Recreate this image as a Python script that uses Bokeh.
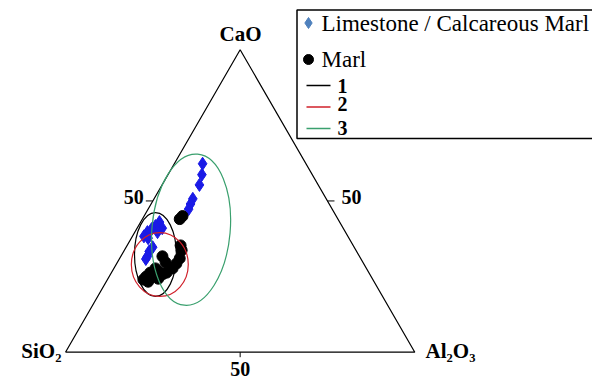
import numpy as np
from bokeh.plotting import figure
from bokeh.models import ColumnDataSource, Range1d
from bokeh.core.properties import value
from bokeh.embed import file_html
from bokeh.resources import INLINE

# ---------------- data (wt %) ----------------
lime_sio2 = [29.6, 31.6, 34.0, 38.2, 39.7, 41.1, 51.6, 51.8, 53.4, 55.0, 56.7, 58.4, 53.8, 57.5, 57.7, 59.4, 60.7, 61.6]
lime_al2o3 = [8.1, 9.7, 10.7, 11.1, 11.3, 11.6, 5.4, 7.2, 4.9, 4.3, 3.6, 3.3, 6.5, 4.8, 7.6, 7.3, 7.6, 7.6]
lime_cao = [62.3, 58.7, 55.3, 50.7, 49.0, 47.3, 43.0, 41.0, 41.7, 40.7, 39.7, 38.3, 39.7, 37.7, 34.7, 33.3, 31.7, 30.8]

marl_sio2 = [44.0, 45.3, 49.4, 49.9, 51.8, 53.6, 55.5, 57.9, 59.4, 60.0, 56.5, 56.4, 60.4, 62.6, 64.4, 65.7, 64.7, 62.4, 61.3]
marl_al2o3 = [11.0, 10.7, 15.3, 16.4, 17.2, 17.1, 16.8, 15.8, 14.9, 13.3, 13.8, 11.9, 11.9, 11.1, 10.6, 10.3, 12.0, 12.6, 14.4]
marl_cao = [45.0, 44.0, 35.3, 33.7, 31.0, 29.3, 27.7, 26.3, 25.7, 26.7, 29.7, 31.7, 27.7, 26.3, 25.0, 24.0, 23.3, 25.0, 24.3]

ell_names = ["1", "2", "3"]
ell_sio2 = [58.1, 58.5, 43.8]
ell_al2o3 = [9.6, 12.5, 15.7]
ell_cao = [32.3, 29.0, 40.5]
ell_width = [12.0, 16.3, 22.4]
ell_height = [24.0, 18.3, 43.4]
ell_angle_deg = [0.0, 0.0, -5.0]
ell_colors = ["#000000", "#d0202a", "#3aa06e"]

vertex_labels = ["SiO₂", "Al₂O₃", "CaO"]
tick_labels = ["50", "50", "50"]
legend_labels = ["Limestone / Calcareous Marl", "Marl"]

SQ3 = np.sqrt(3) / 2


def tern(si, al, ca):
    si, al, ca = (np.asarray(v, dtype=float) for v in (si, al, ca))
    tot = si + al + ca
    x = 100 * (al + ca / 2) / tot
    y = 100 * ca * SQ3 / tot
    return x, y


# ---------------- layout helpers (pixel -> data) ----------------
W, H = 592, 379
X0, Y0, S = 65.0, 351.7, 3.493


def sx(px):
    return (px - X0) / S


def sy(py):
    return (Y0 - py) / S


p = figure(width=W, height=H, x_range=Range1d(sx(0), sx(W)), y_range=Range1d(sy(H), sy(0)),
           output_backend="svg", toolbar_location=None, x_axis_location=None, y_axis_location=None,
           min_border=0, outline_line_color=None, background_fill_color="white",
           border_fill_color="white")
p.grid.visible = False

FONT = value("Liberation Serif")

# triangle
vx, vy = tern([100, 0, 0, 100], [0, 100, 0, 0], [0, 0, 100, 0])
p.line(vx, vy, line_color="black", line_width=1.2)

# tick marks at 50 %
tx, ty = tern([50, 0, 50], [50, 50, 0], [0, 50, 50])  # base, right edge, left edge
tl = 7 / S
p.segment(x0=[tx[0], tx[1], tx[2]], y0=[ty[0], ty[1], ty[2]],
          x1=[tx[0], tx[1] + tl, tx[2] - tl], y1=[ty[0] - 5 / S, ty[1], ty[2]],
          line_color="black", line_width=1)
p.text(x=[tx[0], tx[1] + 24 / S, tx[2] - 19 / S], y=[sy(368), sy(196), sy(196)],
       text=tick_labels, text_font=FONT, text_font_style="bold", text_font_size="20px",
       text_align="center", text_baseline="middle", text_color="black")

# vertex labels
p.text(x=[sx(61), sx(425), sx(240)], y=[sy(350), sy(350), sy(33)], text=vertex_labels,
       text_font=FONT, text_font_style="bold", text_font_size="21px",
       text_align=["right", "left", "center"], text_baseline="middle", text_color="black")

# data points
lx, ly = tern(lime_sio2, lime_al2o3, lime_cao)
mx, my = tern(marl_sio2, marl_al2o3, marl_cao)
p.scatter(x=lx, y=ly, marker="diamond", size=13, fill_color="#1a1ae6", line_color="#1a1ae6")
p.scatter(x=mx, y=my, marker="circle", size=11, fill_color="black", line_color="black")

# ellipses
ex, ey = tern(ell_sio2, ell_al2o3, ell_cao)
esrc = ColumnDataSource(dict(x=ex, y=ey, w=ell_width, h=ell_height,
                             a=np.radians(ell_angle_deg), c=ell_colors))
p.ellipse(x="x", y="y", width="w", height="h", angle="a", source=esrc,
          fill_color=None, line_color="c", line_width=1.2)

# ---------------- legend (drawn manually) ----------------
p.quad(left=[sx(296.5)], right=[sx(620)], top=[sy(9.5)], bottom=[sy(138)],
       fill_color="white", line_color="black", line_width=1.5)
p.scatter(x=[sx(308)], y=[sy(22.5)], marker="diamond", size=11, fill_color="#4f81bd", line_color="#4f81bd")
p.scatter(x=[sx(308)], y=[sy(59)], marker="circle", size=10, fill_color="black", line_color="black")
p.text(x=[sx(321), sx(321)], y=[sy(23), sy(59)], text=legend_labels, text_font=FONT,
       text_font_size="23px", text_align="left", text_baseline="middle", text_color="black")
p.segment(x0=[sx(306)] * 3, x1=[sx(330)] * 3, y0=[sy(85), sy(106.5), sy(128)],
          y1=[sy(85), sy(106.5), sy(128)], line_color=ell_colors, line_width=1.3)
p.text(x=[sx(337)] * 3, y=[sy(85), sy(103.5), sy(127.5)], text=ell_names, text_font=FONT,
       text_font_style="bold", text_font_size="20px", text_align="left",
       text_baseline="middle", text_color="black")

open("out.html", "w").write(file_html(p, INLINE))
